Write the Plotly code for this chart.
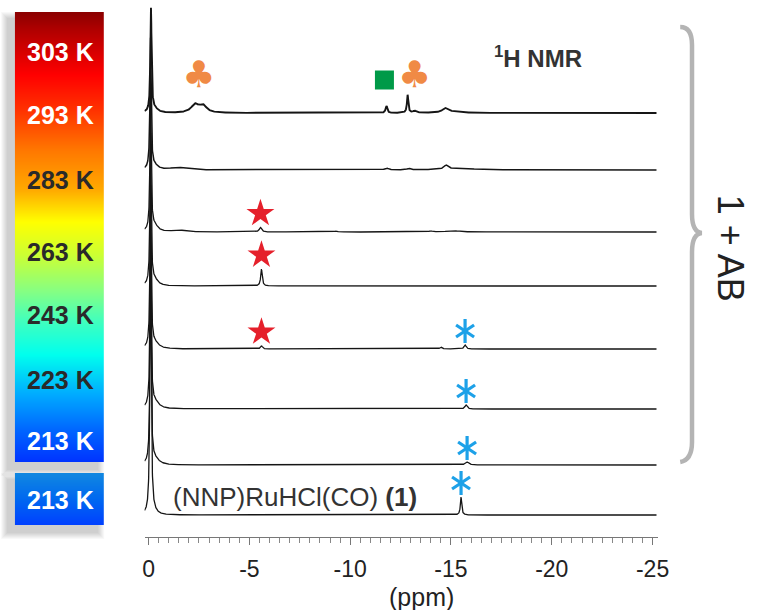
import numpy as np
import plotly.graph_objects as go

# ------------------------------------------------------------------ data
# Spectra from top to bottom; each one is a list of peaks:
# (chemical shift / ppm, intensity, half width / ppm)
peaks_303K = [(-0.12, 103, 0.035), (-0.30, 4, 0.20), (-2.30, 8, 0.22), (-2.70, 7, 0.22),
              (-11.80, 7, 0.05), (-12.85, 18, 0.04), (-13.20, 2, 0.10),
              (-14.70, 4, 0.15), (-15.00, 1.5, 0.50)]
peaks_293K = [(-0.10, 130, 0.035), (-0.30, 4, 0.20), (-1.50, 2.5, 0.50),
              (-11.80, 2, 0.10), (-12.90, 1.5, 0.10), (-14.75, 4, 0.12), (-15.40, 1.5, 0.90)]
peaks_283K = [(-0.10, 140, 0.035), (-0.30, 6, 0.20), (-1.50, 1.8, 0.40), (-5.55, 4.5, 0.07),
              (-9.30, 0.8, 0.10), (-14.00, 1.0, 0.10), (-15.10, 1.5, 0.30)]
peaks_263K = [(-0.10, 150, 0.035), (-0.30, 6, 0.20), (-5.60, 17, 0.045)]
peaks_243K = [(-0.10, 160, 0.035), (-0.30, 6, 0.25), (-5.60, 3, 0.06),
              (-14.50, 2, 0.06), (-15.70, 4, 0.06)]
peaks_223K = [(-0.10, 180, 0.035), (-0.30, 7, 0.25), (-15.75, 4, 0.07)]
peaks_213K = [(-0.10, 200, 0.035), (-0.30, 6, 0.25), (-15.80, 3, 0.10)]
peaks_cmpd1 = [(-0.10, 300, 0.035), (-0.25, 3, 0.20), (-15.50, 18, 0.04)]

spectra = [peaks_303K, peaks_293K, peaks_283K, peaks_263K,
           peaks_243K, peaks_223K, peaks_213K, peaks_cmpd1]

temperature_labels = ["303 K", "293 K", "283 K", "263 K", "243 K", "223 K", "213 K"]
single_label = "213 K"

tick_values = [0, -5, -10, -15, -20, -25]
tick_labels = ["0", "-5", "-10", "-15", "-20", "-25"]

# assignment marks: (spectrum index, shift / ppm)
club_marks = [(0, -2.50), (0, -13.20)]
square_marks = [(0, -11.70)]
star_marks = [(2, -5.55), (3, -5.60), (4, -5.60)]
asterisk_marks = [(4, -15.70), (5, -15.75), (6, -15.80), (7, -15.50)]

# ------------------------------------------------------------------ layout constants
W, H = 761, 610
FONT = "Liberation Sans, Arial, sans-serif"
PLOT_BOTTOM = 537                     # pixel row of the ppm axis
baseline_rows = [113, 170, 232, 286, 349, 409, 465, 515]
line_widths = [1.9, 1.5, 1.3, 1.3, 1.3, 1.3, 1.3, 1.3]


def px(x):
    return x / W


def py(y):
    return 1 - y / H


ppm = np.arange(0.2, -25.2, -0.005)


def lineshape(peaks, x):
    y = np.zeros_like(x)
    for c, h, g in peaks:
        y += h * g * g / ((x - c) ** 2 + g * g)
    return y


fig = go.Figure()

offsets = [PLOT_BOTTOM - r for r in baseline_rows]
curves = []
for peaks, off, lw in zip(spectra, offsets, line_widths):
    yy = lineshape(peaks, ppm)
    curves.append(yy)
    fig.add_trace(go.Scatter(
        x=ppm, y=yy + off, mode="lines",
        line=dict(color="#151515", width=lw),
        hoverinfo="skip", showlegend=False))


def local_top(idx, shift, win=0.15):
    m = np.abs(ppm - shift) <= win
    return curves[idx][m].max()


# clubs and square sit on one row above the top trace
club_x = [s for _, s in club_marks]
club_y = [offsets[i] + 35 for i, _ in club_marks]
fig.add_trace(go.Scatter(
    x=club_x, y=club_y, mode="text", text=["\u2663"] * len(club_x),
    textfont=dict(family="DejaVu Sans", size=37, color="#F08A45"),
    cliponaxis=False, hoverinfo="skip", showlegend=False))

sq_x = [s for _, s in square_marks]
sq_y = [offsets[i] + 33 for i, _ in square_marks]
fig.add_trace(go.Scatter(
    x=sq_x, y=sq_y, mode="markers",
    marker=dict(symbol="square", size=19, color="#009A48", line=dict(width=0)),
    cliponaxis=False, hoverinfo="skip", showlegend=False))

st_x = [s for _, s in star_marks]
st_y = [offsets[i] + local_top(i, s) + 14 for i, s in star_marks]
fig.add_trace(go.Scatter(
    x=st_x, y=st_y, mode="markers",
    marker=dict(symbol="star", size=21, color="#E5202B", line=dict(width=0)),
    cliponaxis=False, hoverinfo="skip", showlegend=False))

as_x = [s for _, s in asterisk_marks]
as_y = [offsets[i] + local_top(i, s) + 14 for i, s in asterisk_marks]
for sym in ("y-up-open", "y-down-open"):
    fig.add_trace(go.Scatter(
        x=as_x, y=as_y, mode="markers",
        marker=dict(symbol=sym, size=15, color="#1DA1E8",
                    line=dict(width=3.2, color="#1DA1E8")),
        cliponaxis=False, hoverinfo="skip", showlegend=False))

# ------------------------------------------------------------------ temperature bar
bar_scale = [
    [0.000, "#0033ff"], [0.071, "#0066ff"], [0.149, "#00aaff"], [0.238, "#00ffee"],
    [0.316, "#44ffbb"], [0.382, "#88ff80"], [0.460, "#ccff33"], [0.533, "#ffff00"],
    [0.604, "#ffaa00"], [0.693, "#ff7700"], [0.780, "#ff3300"], [0.860, "#ff0000"],
    [0.960, "#b00000"], [1.000, "#8a0000"]]
n = 450
edges = np.linspace(0, 1, n + 1)
zz = np.repeat(((edges[:-1] + edges[1:]) / 2)[:, None], 2, axis=1)
fig.add_trace(go.Heatmap(
    x=[0, 0.5, 1], y=edges, z=zz, zmin=0, zmax=1, colorscale=bar_scale,
    showscale=False, hoverinfo="skip", xaxis="x2", yaxis="y2"))

box_scale = [[0, "#0040ff"], [0.5, "#0068f0"], [1, "#1188e0"]]
fig.add_trace(go.Heatmap(
    x=[0, 0.5, 1], y=edges, z=zz, zmin=0, zmax=1, colorscale=box_scale,
    showscale=False, hoverinfo="skip", xaxis="x3", yaxis="y3"))

BAR = (13, 12, 104, 462)
BOX = (13, 473, 104, 525)

shapes = []
# soft drop shadows behind the bar and the box
for (x0, y0, x1, y1) in (BAR, BOX):
    for k in range(7):
        shapes.append(dict(
            type="rect", xref="paper", yref="paper", layer="below",
            x0=px(x0 - 8 - k), x1=px(x1 - 6 + k), y0=py(y0 + 6 - k), y1=py(y1 + 8 + k),
            line=dict(width=0), fillcolor="rgba(0,0,0,0.028)"))

# curly brace grouping the 1 + AB spectra
bx = [(690, 27), (702, 27), (702, 45), (702, 214), (702, 232), (712, 233),
      (702, 234), (702, 252), (702, 442), (702, 460), (690, 462)]
P = [(px(x), py(y)) for x, y in bx]
path = ("M {0[0]},{0[1]} Q {1[0]},{1[1]} {2[0]},{2[1]} L {3[0]},{3[1]} "
        "Q {4[0]},{4[1]} {5[0]},{5[1]} Q {6[0]},{6[1]} {7[0]},{7[1]} "
        "L {8[0]},{8[1]} Q {9[0]},{9[1]} {10[0]},{10[1]}").format(*P)
shapes.append(dict(type="path", xref="paper", yref="paper", path=path,
                   line=dict(color="#b4b4b4", width=4.5)))

annotations = []
label_rows = [52, 115, 180, 252, 315, 380, 441]
label_colors = ["#ffffff", "#ffffff", "#2a2a2a", "#2a2a2a", "#2a2a2a", "#2a2a2a", "#ffffff"]
for t, r, c in zip(temperature_labels, label_rows, label_colors):
    annotations.append(dict(
        xref="paper", yref="paper", x=px(60), y=py(r), text="<b>%s</b>" % t,
        showarrow=False, font=dict(family=FONT, size=25, color=c),
        xanchor="center", yanchor="middle"))
annotations.append(dict(
    xref="paper", yref="paper", x=px(60), y=py(500), text="<b>%s</b>" % single_label,
    showarrow=False, font=dict(family=FONT, size=25, color="#ffffff"),
    xanchor="center", yanchor="middle"))

annotations += [
    dict(xref="paper", yref="paper", x=px(545), y=py(57),
         text="<b><sup>1</sup>H NMR</b>", showarrow=False,
         font=dict(family=FONT, size=24, color="#333333"),
         xanchor="center", yanchor="middle"),
    dict(xref="paper", yref="paper", x=px(172), y=py(497),
         text="(NNP)RuHCl(CO) <b>(1)</b>", showarrow=False,
         font=dict(family=FONT, size=26, color="#333333"),
         xanchor="left", yanchor="middle"),
    dict(xref="paper", yref="paper", x=px(742), y=py(248),
         text="1 + AB", textangle=90, showarrow=False,
         font=dict(family=FONT, size=36, color="#222222"),
         xanchor="center", yanchor="middle"),
    dict(xref="paper", yref="paper", x=px(427), y=py(597),
         text="(ppm)", showarrow=False,
         font=dict(family=FONT, size=25, color="#222222"),
         xanchor="center", yanchor="middle"),
]

fig.update_layout(
    width=W, height=H, margin=dict(l=0, r=0, t=0, b=0),
    paper_bgcolor="white", plot_bgcolor="white",
    font=dict(family=FONT),
    showlegend=False,
    xaxis=dict(domain=[px(145), px(667)], range=[0.2, -25.25], anchor="y",
               showline=True, linecolor="#777777", linewidth=1.2,
               ticks="outside", ticklen=7, tickcolor="#777777", tickwidth=1,
               tickmode="array", tickvals=tick_values, ticktext=tick_labels,
               tickfont=dict(family=FONT, size=23, color="#222222"),
               ticklabelstandoff=4,
               minor=dict(dtick=0.5, tick0=0, ticks="outside", ticklen=5,
                          tickcolor="#888888", tickwidth=1, showgrid=False),
               showgrid=False, zeroline=False, fixedrange=True),
    yaxis=dict(domain=[1 - PLOT_BOTTOM / H, 1], range=[0, PLOT_BOTTOM], visible=False,
               fixedrange=True),
    xaxis2=dict(domain=[px(BAR[0]), px(BAR[2])], range=[0, 1], visible=False, anchor="y2"),
    yaxis2=dict(domain=[py(BAR[3]), py(BAR[1])], range=[0, 1], visible=False, anchor="x2"),
    xaxis3=dict(domain=[px(BOX[0]), px(BOX[2])], range=[0, 1], visible=False, anchor="y3"),
    yaxis3=dict(domain=[py(BOX[3]), py(BOX[1])], range=[0, 1], visible=False, anchor="x3"),
    shapes=shapes, annotations=annotations,
)

fig.write_html("out.html")
